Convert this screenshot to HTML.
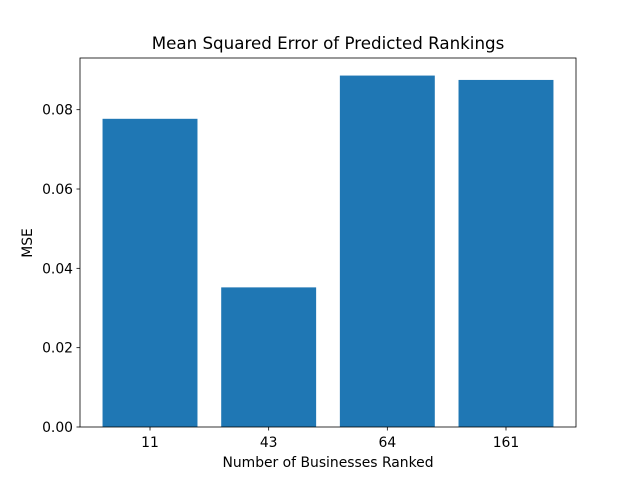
<!DOCTYPE html>
<html><head><meta charset="utf-8"><style>
body{margin:0;background:#fff;}
svg text{font-family:"DejaVu Sans","Liberation Sans",sans-serif;fill:#000;}
</style></head><body>
<svg id="chart" width="640" height="480" xmlns="http://www.w3.org/2000/svg">
<rect width="640" height="480" fill="#fff"/>
<text x="328" y="49" font-size="16.7" text-anchor="middle">Mean Squared Error of Predicted Rankings</text>
<g id="bars"></g>
<g id="axes"></g>
<text x="328" y="467" font-size="13.9" text-anchor="middle">Number of Businesses Ranked</text>
<text transform="translate(32,243) rotate(-90)" font-size="13.9" text-anchor="middle">MSE</text>
</svg>
<script>
const categories=["11","43","64","161"];
const mseValues=[0.0777,0.0352,0.0886,0.0875];
const yTicks=[0,0.02,0.04,0.06,0.08];
const yTickLabels=["0.00","0.02","0.04","0.06","0.08"];

const L=80,R=576,T=58,B=427;
const ns="http://www.w3.org/2000/svg";
const yMax=Math.max(...mseValues)*1.05;
const xMin=-0.4-0.19,xMax=categories.length-1+0.4+0.19;
function xs(v){return L+(v-xMin)/(xMax-xMin)*(R-L);}
function ys(v){return B-v/yMax*(B-T);}
function mk(tag,attrs,parent){const e=document.createElementNS(ns,tag);for(const k in attrs)e.setAttribute(k,attrs[k]);parent.appendChild(e);return e;}
const bars=document.getElementById('bars'),axes=document.getElementById('axes');
mseValues.forEach((v,i)=>{
  const r=mk('rect',{x:xs(i-0.4),y:ys(v),width:xs(i+0.4)-xs(i-0.4),height:ys(0)-ys(v),fill:'#1f77b4'},bars);
  
  
  const t=mk('line',{x1:xs(i),x2:xs(i),y1:B,y2:B+3.5,stroke:'#000','stroke-width':0.8},axes);
  
  
  const lb=mk('text',{x:xs(i),y:B+20,'font-size':13.9,'text-anchor':'middle'},axes);
  lb.textContent=categories[i];
  
  
});
yTicks.forEach((v,i)=>{
  const t=mk('line',{x1:L-3.5,x2:L,y1:ys(v),y2:ys(v),stroke:'#000','stroke-width':0.8},axes);
  
  
  const lb=mk('text',{x:L-7,y:ys(v)+5,'font-size':13.9,'text-anchor':'end'},axes);
  lb.textContent=yTickLabels[i];
  
  
});
const fr=mk('rect',{x:L,y:T,width:R-L,height:B-T,fill:'none',stroke:'#000','stroke-width':0.8},axes);


</script>
</body></html>
